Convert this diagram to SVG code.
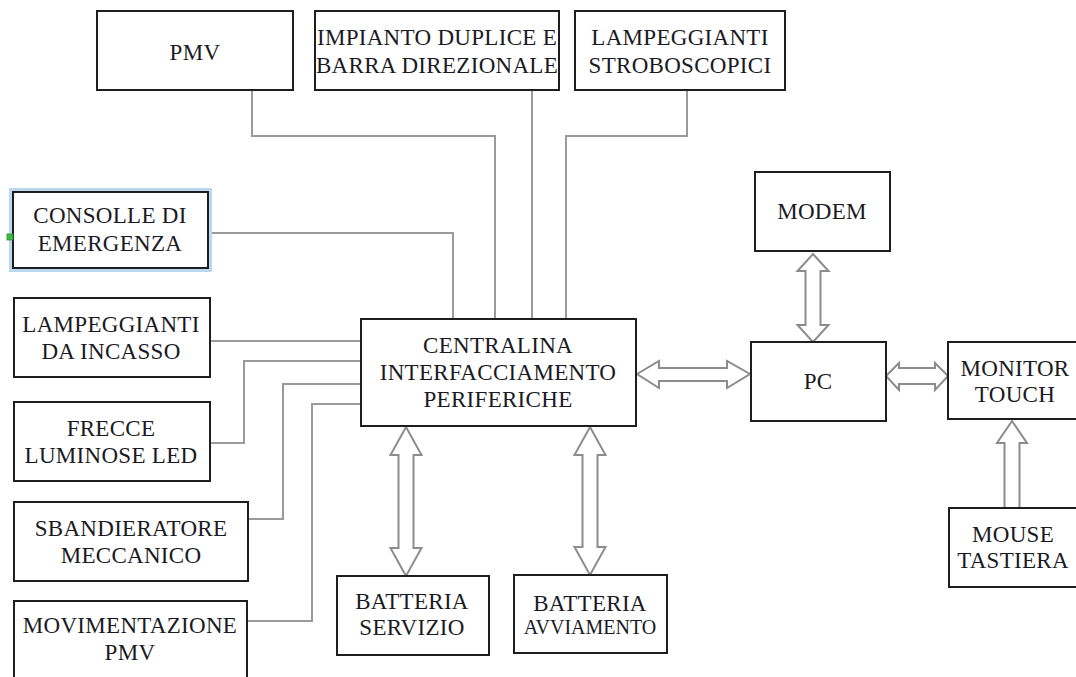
<svg xmlns="http://www.w3.org/2000/svg" width="1076" height="677" viewBox="0 0 1076 677">
<style>
.box{fill:#fff;stroke:#1e1e1e;stroke-width:2}
.t{font-family:"Liberation Serif","Times New Roman",serif;font-size:23px;letter-spacing:0.3px;fill:#1a1a24;text-anchor:middle}
.sm{font-size:20px;letter-spacing:0}
.ln{fill:none;stroke:#9a9a9a;stroke-width:2}
.ar{fill:#fff;stroke:#8c8c8c;stroke-width:2;stroke-linejoin:miter}
</style>
<rect width="1076" height="677" fill="#fff"/>
<g id="connectors">
<polyline class="ln" points="252,90 252,136 495,136 495,320"/>
<polyline class="ln" points="532,90 532,320"/>
<polyline class="ln" points="687,90 687,136 566,136 566,320"/>
<polyline class="ln" points="208,233 453,233 453,320"/>
<polyline class="ln" points="210,341 361,341"/>
<polyline class="ln" points="210,443 244,443 244,361 361,361"/>
<polyline class="ln" points="248,519 283,519 283,384 361,384"/>
<polyline class="ln" points="247,621 312,621 312,404 361,404"/>
<path class="ar" d="M406,427 L421.5,455 L413.5,455 L413.5,548 L421.5,548 L406,576 L390.5,548 L398.5,548 L398.5,455 L390.5,455 Z"/>
<path class="ar" d="M590,427 L605.5,455 L597.5,455 L597.5,547 L605.5,547 L590,575 L574.5,547 L582.5,547 L582.5,455 L574.5,455 Z"/>
<path class="ar" d="M637,374 L659,361 L659,368 L727,368 L727,361 L750,374 L727,388 L727,381 L659,381 L659,388 Z"/>
<path class="ar" d="M813,254 L828.5,271 L820.5,271 L820.5,325 L828.5,325 L813,342 L797.5,325 L805.5,325 L805.5,271 L797.5,271 Z"/>
<path class="ar" d="M886,376 L899,363 L899,368 L935,368 L935,363 L948,376 L935,390 L935,384 L899,384 L899,390 Z"/>
<path class="ar" d="M1012,421 L1027,443 L1019.5,443 L1019.5,508 L1004.5,508 L1004.5,443 L997,443 Z"/>
</g>
<g id="pmv"><rect class="box" x="97" y="11" width="196" height="79"/><text class="t" x="195" y="60">PMV</text></g>
<g id="impianto"><rect class="box" x="315" y="11" width="244" height="79"/><text class="t" x="437" y="45">IMPIANTO DUPLICE E</text><text class="t" x="437" y="73">BARRA DIREZIONALE</text></g>
<g id="strobo"><rect class="box" x="575" y="11" width="210" height="79"/><text class="t" x="680" y="45">LAMPEGGIANTI</text><text class="t" x="680" y="73">STROBOSCOPICI</text></g>
<g id="consolle"><rect x="10.5" y="189.5" width="200" height="81" fill="none" stroke="#bcd7f0" stroke-width="3"/><rect class="box" x="13" y="192" width="195" height="76"/><rect x="7" y="234" width="6" height="6" fill="#3cc040" stroke="#2a8a2a" stroke-width="0.8"/><text class="t" x="110" y="223">CONSOLLE DI</text><text class="t" x="110" y="251">EMERGENZA</text></g>
<g id="incasso"><rect class="box" x="14" y="298" width="196" height="79"/><text class="t" x="111" y="332">LAMPEGGIANTI</text><text class="t" x="111" y="359">DA INCASSO</text></g>
<g id="frecce"><rect class="box" x="14" y="402" width="196" height="79"/><text class="t" x="111" y="436">FRECCE</text><text class="t" x="111" y="463">LUMINOSE LED</text></g>
<g id="sbandieratore"><rect class="box" x="14" y="502" width="234" height="79"/><text class="t" x="131" y="536">SBANDIERATORE</text><text class="t" x="131" y="563">MECCANICO</text></g>
<g id="movimentazione"><rect class="box" x="14" y="601" width="233" height="90"/><text class="t" x="130" y="633">MOVIMENTAZIONE</text><text class="t" x="130" y="660">PMV</text></g>
<g id="centralina"><rect class="box" x="361" y="319" width="275" height="107"/><text class="t" x="498" y="353">CENTRALINA</text><text class="t" x="498" y="380">INTERFACCIAMENTO</text><text class="t" x="498" y="407">PERIFERICHE</text></g>
<g id="servizio"><rect class="box" x="337" y="576" width="152" height="79"/><text class="t" x="412" y="609">BATTERIA</text><text class="t" x="412" y="635">SERVIZIO</text></g>
<g id="avviamento"><rect class="box" x="514" y="575" width="153" height="78"/><text class="t" x="590" y="611">BATTERIA</text><text class="t sm" x="590" y="634">AVVIAMENTO</text></g>
<g id="modem"><rect class="box" x="755" y="172" width="135" height="79"/><text class="t" x="822" y="219">MODEM</text></g>
<g id="pc"><rect class="box" x="751" y="342" width="135" height="79"/><text class="t" x="818" y="389">PC</text></g>
<g id="monitor"><rect class="box" x="948" y="342" width="140" height="77"/><text class="t" x="1015" y="376">MONITOR</text><text class="t" x="1015" y="402">TOUCH</text></g>
<g id="mouse"><rect class="box" x="949" y="508" width="140" height="79"/><text class="t" x="1013" y="542">MOUSE</text><text class="t" x="1013" y="568">TASTIERA</text></g>
</svg>
